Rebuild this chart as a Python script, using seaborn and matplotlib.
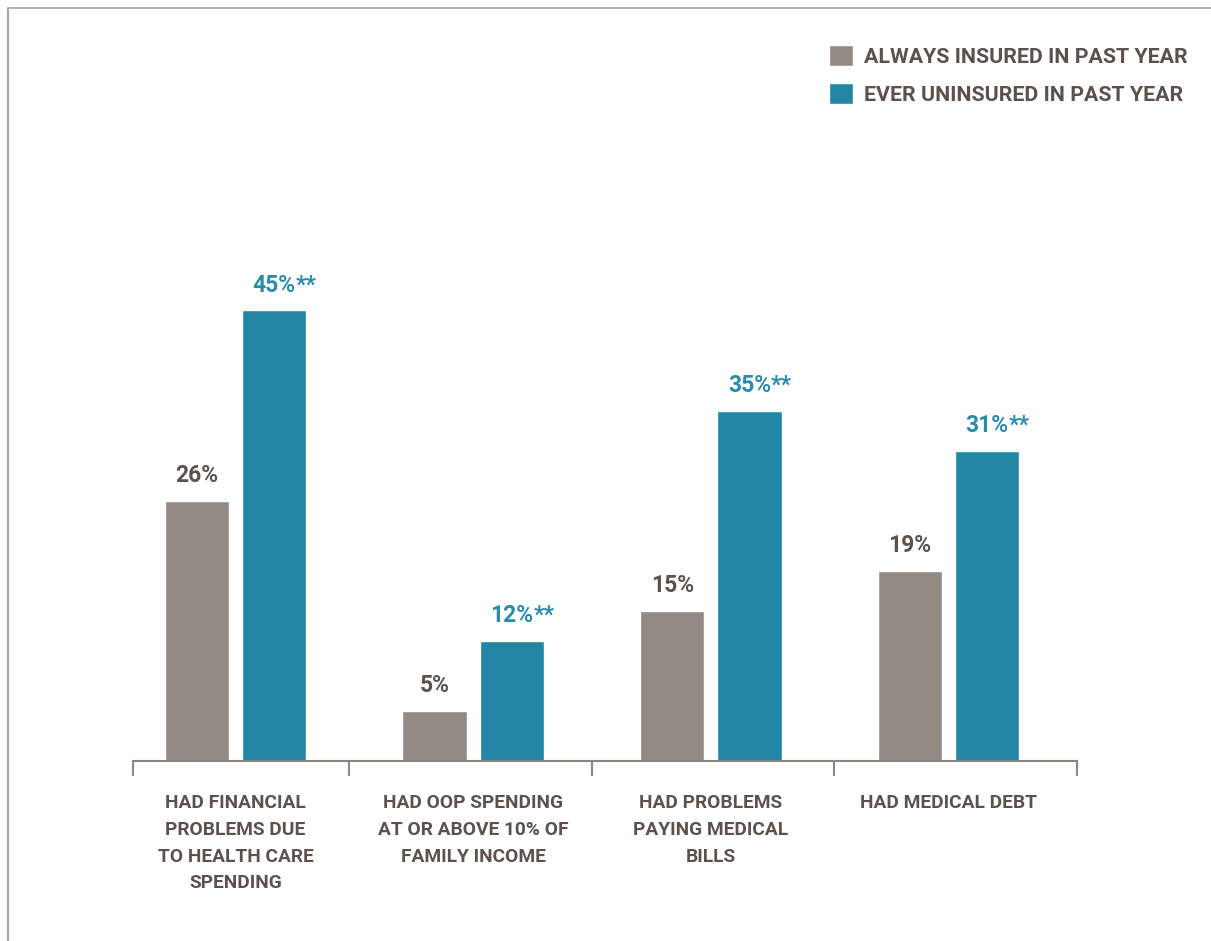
import matplotlib
matplotlib.use("Agg")
import matplotlib.pyplot as plt
import matplotlib.lines as mlines
import pandas as pd
import seaborn as sns

# Survey results, percent of respondents
categories = [
    "HAD FINANCIAL\nPROBLEMS DUE\nTO HEALTH CARE\nSPENDING",
    "HAD OOP SPENDING\nAT OR ABOVE 10% OF\nFAMILY INCOME",
    "HAD PROBLEMS\nPAYING MEDICAL\nBILLS",
    "HAD MEDICAL DEBT",
]
groups = ["ALWAYS INSURED IN PAST YEAR", "EVER UNINSURED IN PAST YEAR"]
always_insured = [26, 5, 15, 19]
ever_uninsured = [45, 12, 35, 31]
significance = ["", "**"]  # marker appended to each group's value labels

GRAY = "#948a84"
TEAL = "#2187a5"
TEXT = "#5c514d"
TEAL_TEXT = "#2a8bab"
RULE = "#8d8580"

df = pd.DataFrame({
    "category": categories * 2,
    "group": [groups[0]] * len(categories) + [groups[1]] * len(categories),
    "pct": always_insured + ever_uninsured,
})

sns.set_theme(style="white")
plt.rcParams["font.family"] = ["Roboto", "DejaVu Sans"]

fig = plt.figure(figsize=(12.11, 9.41), dpi=100)
ax = fig.add_axes([0.1098, 0.1913, 0.7795, 0.532])

sns.barplot(data=df, x="category", y="pct", hue="group", order=categories,
            hue_order=groups, palette=[GRAY, TEAL], saturation=1,
            width=0.65, gap=0.17, ax=ax)

ax.set_ylim(0, 50)
ax.set_xlim(-0.431, 3.54)
ax.set_xlabel("")
ax.set_ylabel("")
ax.set_yticks([])
for side in ("left", "right", "top"):
    ax.spines[side].set_visible(False)
ax.spines["bottom"].set_color(RULE)
ax.spines["bottom"].set_linewidth(1.5)

# Category labels under each pair, separators between pairs
ax.tick_params(axis="x", which="major", bottom=False, length=0, pad=24,
               labelsize=13.8, labelcolor=TEXT)
for lab in ax.get_xticklabels():
    lab.set_fontweight("bold")
    lab.set_linespacing(1.62)
    lab.set_va("top")
ax.set_xticks([-0.431, 0.477, 1.5, 2.52, 3.54], minor=True)
ax.tick_params(axis="x", which="minor", bottom=True, length=11, width=1.5,
               color=RULE, direction="out")

# Value labels above bars
label_colors = [TEXT, TEAL_TEXT]
for container, color, mark in zip(ax.containers, label_colors, significance):
    for bar in container:
        h = bar.get_height()
        xc = bar.get_x() + bar.get_width() / 2
        t = ax.annotate(f"{h:.0f}%", xy=(xc, h), xytext=(0, 10),
                        textcoords="offset points", ha="center", va="bottom",
                        fontsize=16.5, fontweight="bold", color=color)
        if mark:
            ax.annotate(mark, xy=(1, 0), xycoords=t, ha="left", va="bottom",
                        fontsize=16.5, fontweight="bold", color=color)

# Legend in the upper right corner
handles, labels = ax.get_legend_handles_labels()
ax.get_legend().remove()
leg = fig.legend(handles, labels, loc="upper left",
                 bbox_to_anchor=(0.6846, 0.952), frameon=False,
                 borderpad=0, borderaxespad=0, handlelength=1.13,
                 handleheight=1.13, handletextpad=0.52, labelspacing=0.77,
                 prop={"size": 15.4, "weight": "bold"})
for txt in leg.get_texts():
    txt.set_color(TEXT)

# Thin frame along the top and left edges
frame = "#aaa39e"
fig.add_artist(mlines.Line2D([8 / 1211, 1], [1 - 8 / 941, 1 - 8 / 941],
                             transform=fig.transFigure, color=frame, lw=1.2))
fig.add_artist(mlines.Line2D([8 / 1211, 8 / 1211], [0, 1 - 8 / 941],
                             transform=fig.transFigure, color=frame, lw=1.5))

fig.savefig("out.png", dpi=100, facecolor="white")
